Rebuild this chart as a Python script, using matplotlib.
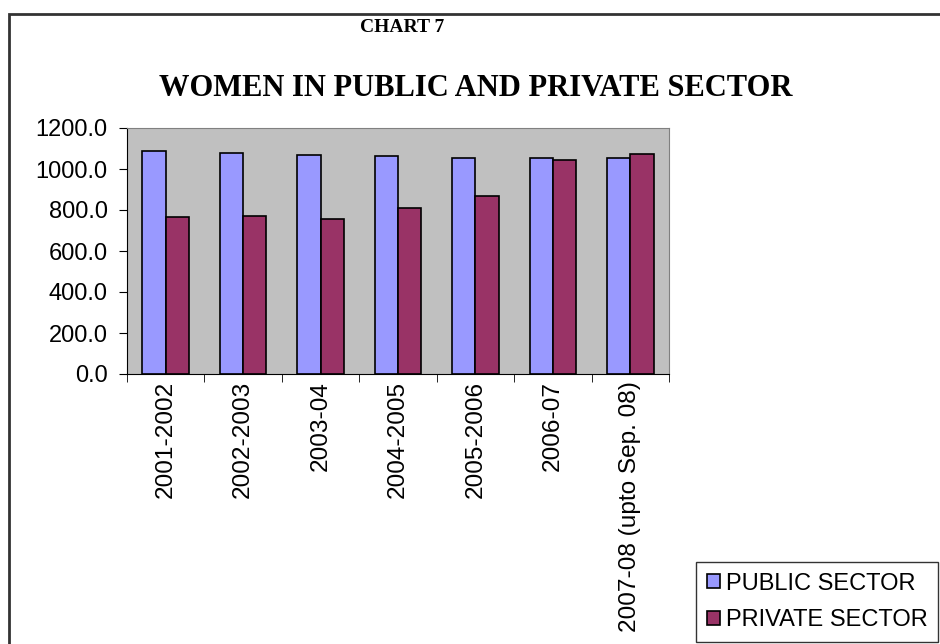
import matplotlib.pyplot as plt
import numpy as np
from matplotlib.patches import Rectangle

# Data
years = ['2001-2002', '2002-2003', '2003-04', '2004-2005', '2005-2006',
         '2006-07', '2007-08 (upto Sep. 08)']
public_sector = [1086, 1078, 1070, 1062, 1052, 1052, 1052]
private_sector = [764, 772, 756, 808, 868, 1044, 1071]

plt.rcParams['font.family'] = ['Liberation Sans', 'DejaVu Sans']

fig = plt.figure(figsize=(9.4, 6.44), dpi=100)
ax = fig.add_axes([127 / 940, 1 - 374 / 644, 542 / 940, 246 / 644])

x = np.arange(len(years))
w = 0.3
ax.bar(x - w / 2, public_sector, w, color='#9999FF', edgecolor='black',
       linewidth=1.2, label='PUBLIC SECTOR')
ax.bar(x + w / 2, private_sector, w, color='#993366', edgecolor='black',
       linewidth=1.2, label='PRIVATE SECTOR')

ax.set_facecolor('#C0C0C0')
ax.set_xlim(-0.5, len(years) - 0.5)
ax.set_ylim(0, 1200)
ax.set_yticks(np.arange(0, 1201, 200))
ax.set_yticklabels([f'{v:.1f}' for v in np.arange(0, 1201, 200)], fontsize=17)

# category labels centred, tick marks between categories
ax.set_xticks(x)
ax.set_xticklabels(years, rotation=90, fontsize=17.6, va='top')
ax.tick_params(axis='x', length=0, pad=5)
ax.set_xticks(np.arange(-0.5, len(years)), minor=True)
ax.tick_params(axis='x', which='minor', length=6, direction='out', color='black')
ax.tick_params(axis='y', length=6, direction='out', pad=8)

for s in ['top', 'right']:
    ax.spines[s].set_color('#808080')
for s in ['left', 'bottom']:
    ax.spines[s].set_color('black')

# outer chart border
fig.patches.append(Rectangle((9 / 940, -0.05), 1.0, 1 - 14 / 644 + 0.05,
                             transform=fig.transFigure, fill=False,
                             edgecolor='#333333', linewidth=2))

fig.text(402 / 940, 1 - 28 / 644, 'CHART 7', family='Liberation Serif',
         fontweight='bold', fontsize=14, ha='center', va='center')
fig.text(476 / 940, 1 - 88 / 644, 'WOMEN IN PUBLIC AND PRIVATE SECTOR',
         family='Liberation Serif', fontweight='bold', fontsize=22,
         ha='center', va='center')

fig.legend(loc='upper left', bbox_to_anchor=(696 / 940, 1 - 562 / 644),
           fontsize=17, frameon=True, fancybox=False, edgecolor='black',
           handlelength=0.55, handleheight=0.55, handletextpad=0.25,
           labelspacing=0.62, borderaxespad=0, borderpad=0.45)

fig.savefig('out.png', dpi=100)
